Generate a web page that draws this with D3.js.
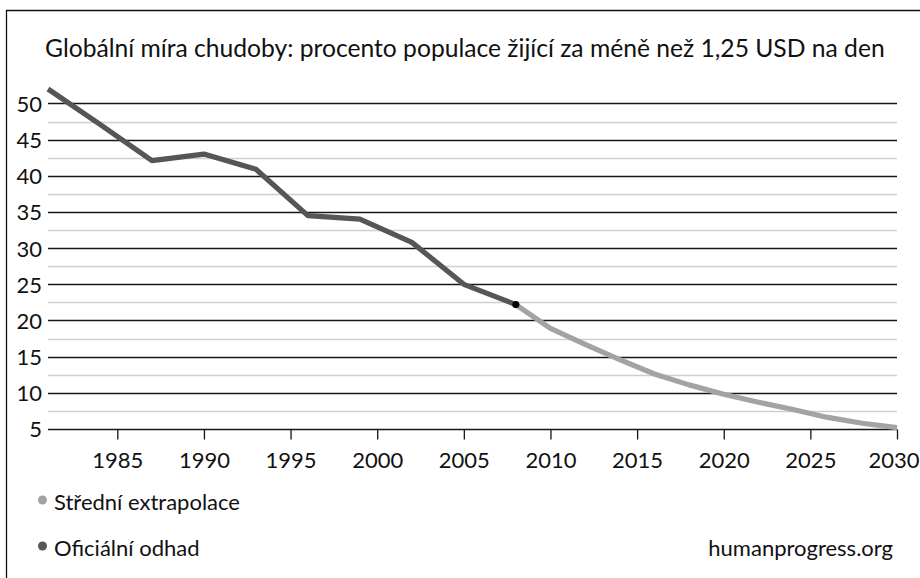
<!DOCTYPE html>
<html>
<head>
<meta charset="utf-8">
<script src="https://cdn.jsdelivr.net/npm/d3@7"></script>
<style>
  html, body { margin: 0; padding: 0; background: #fff; }
  svg { display: block; }
  text { font-family: Lato, "Open Sans", sans-serif; fill: #111; }
</style>
</head>
<body>
<svg id="chart" width="920" height="578"></svg>
<script>
// ---- data ----
const titleText = "Globální míra chudoby: procento populace žijící za méně než 1,25 USD na den";
const officialYears  = [1981, 1984, 1987, 1990, 1993, 1996, 1999, 2002, 2005, 2008];
const officialValues = [52.0, 47.1, 42.1, 43.0, 40.9, 34.5, 34.0, 30.8, 25.0, 22.2];
const extrapYears  = [2008, 2010, 2012, 2014, 2016, 2018, 2020, 2022, 2024, 2026, 2028, 2030];
const extrapValues = [22.2, 18.9, 16.7, 14.6, 12.6, 11.1, 9.8, 8.7, 7.7, 6.6, 5.8, 5.2];
const xTicks = [1985, 1990, 1995, 2000, 2005, 2010, 2015, 2020, 2025, 2030];
const yTicks = [5, 10, 15, 20, 25, 30, 35, 40, 45, 50];
const yMinor = [7.5, 12.5, 17.5, 22.5, 27.5, 32.5, 37.5, 42.5, 47.5];
const legendLabels = ["Střední extrapolace", "Oficiální odhad"];
const sourceText = "humanprogress.org";

// ---- styles ----
const colOfficial = "#565656";
const colExtrap = "#a3a3a3";

const svg = d3.select("#chart");

// frame
svg.append("line").attr("x1", 6).attr("x2", 920).attr("y1", 10.5).attr("y2", 10.5)
  .attr("stroke", "#111").attr("stroke-width", 1.3);
svg.append("line").attr("x1", 6.5).attr("x2", 6.5).attr("y1", 10).attr("y2", 578)
  .attr("stroke", "#111").attr("stroke-width", 1.3);

const x = d3.scaleLinear().domain([1981, 2030]).range([48, 897]);
const y = d3.scaleLinear().domain([5, 52]).range([429, 89]);

// title
const title = svg.append("text").attr("x", 45).attr("y", 57)
  .style("font-size", "22px").text(titleText);
const tw = title.node().getComputedTextLength();
title.style("font-size", (22 * 840 / tw).toFixed(2) + "px");

// minor grid
svg.append("g").selectAll("line").data(yMinor).join("line")
  .attr("x1", x.range()[0]).attr("x2", x.range()[1])
  .attr("y1", d => Math.round(y(d)) + 0.5).attr("y2", d => Math.round(y(d)) + 0.5)
  .attr("stroke", "#cfcfcf").attr("stroke-width", 1.4);

// major grid
svg.append("g").selectAll("line").data(yTicks).join("line")
  .attr("x1", x.range()[0]).attr("x2", x.range()[1])
  .attr("y1", d => Math.round(y(d)) + 0.5).attr("y2", d => Math.round(y(d)) + 0.5)
  .attr("stroke", "#161616").attr("stroke-width", 1.3);

// y axis labels
const yAxis = d3.axisLeft(y).tickValues(yTicks).tickSize(0).tickPadding(6).tickFormat(d3.format("d"));
const gy = svg.append("g").attr("transform", `translate(${x.range()[0]},0)`).call(yAxis);
gy.select(".domain").remove();
gy.selectAll("text").style("font-size", "22px").attr("fill", "#111").attr("dy", "0.36em")
  .style("font-family", "Lato, sans-serif");

// x axis
const xAxis = d3.axisBottom(x).tickValues(xTicks).tickSize(10).tickPadding(13).tickFormat(d3.format("d"));
const gx = svg.append("g").attr("transform", `translate(0,${Math.round(y(5)) + 0.5})`).call(xAxis);
gx.select(".domain").remove();
gx.selectAll(".tick line").attr("stroke", "#161616").attr("stroke-width", 1.3);
gx.selectAll("text").style("font-size", "22px").attr("fill", "#111")
  .style("font-family", "Lato, sans-serif");
// keep the last label inside the window
gx.selectAll(".tick text").each(function (d) {
  const w = this.getComputedTextLength();
  const right = x(d) + w / 2;
  if (right > 919) d3.select(this).attr("dx", (919 - right).toFixed(1));
});

// lines
const line = d3.line().x(d => x(d[0])).y(d => y(d[1]));
svg.append("path").datum(extrapYears.map((yr, i) => [yr, extrapValues[i]]))
  .attr("d", line).attr("fill", "none").attr("stroke", colExtrap)
  .attr("stroke-width", 5.2).attr("stroke-linejoin", "round");
svg.append("path").datum(officialYears.map((yr, i) => [yr, officialValues[i]]))
  .attr("d", line).attr("fill", "none").attr("stroke", colOfficial)
  .attr("stroke-width", 5.2).attr("stroke-linejoin", "round");

// junction dot
svg.append("circle")
  .attr("cx", x(officialYears[officialYears.length - 1]))
  .attr("cy", y(officialValues[officialValues.length - 1]))
  .attr("r", 3.6).attr("fill", "#000");

// legend
const legColors = [colExtrap, colOfficial];
const lg = svg.append("g").selectAll("g").data(legendLabels).join("g")
  .attr("transform", (d, i) => `translate(0,${500 + i * 46})`);
lg.append("circle").attr("cx", 42.5).attr("cy", 0).attr("r", 4.5).attr("fill", (d, i) => legColors[i]);
lg.append("text").attr("x", 54).attr("y", 10).style("font-size", "22px").text(d => d);

// source
svg.append("text").attr("x", 893).attr("y", 556).attr("text-anchor", "end")
  .style("font-size", "22px").text(sourceText);
</script>
</body>
</html>
